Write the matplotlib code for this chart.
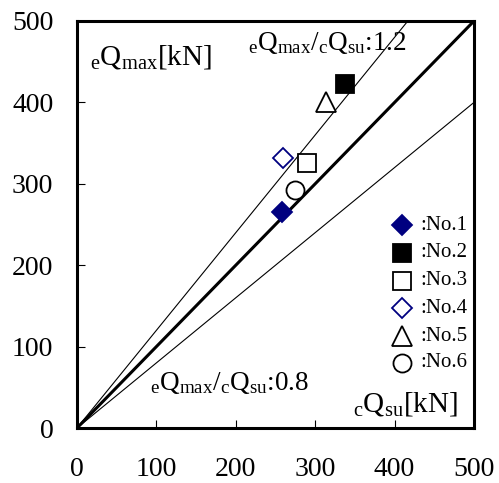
import matplotlib.pyplot as plt
import numpy as np

plt.rcParams['font.family'] = 'Liberation Serif'
plt.rcParams['mathtext.fontset'] = 'custom'
plt.rcParams['mathtext.rm'] = 'Liberation Serif'
plt.rcParams['mathtext.it'] = 'Liberation Serif:italic'

# specimen results (cQsu, eQmax) in kN
names = ['No.1', 'No.2', 'No.3', 'No.4', 'No.5', 'No.6']
cQsu = [258, 338, 290, 260, 314, 275]
eQmax = [265, 423, 325, 332, 400, 292]
markers = ['D', 's', 's', 'D', '^', 'o']
faces = ['#000080', 'black', 'white', 'white', 'white', 'white']
edges = ['#000080', 'black', 'black', '#000080', 'black', 'black']
sizes = [10, 13, 13, 10, 14, 13]

ratios = [1.2, 1.0, 0.8]
ratio_widths = [0.8, 2.2, 0.8]

fig = plt.figure(figsize=(4.99, 4.83), dpi=100)
ax = fig.add_axes([77/499, 55/483, 397/499, 407/483])

xs = np.array([0, 500])
for r, lw in zip(ratios, ratio_widths):
    ax.plot(xs, r * xs, color='black', lw=lw, zorder=1)

for i in range(len(names)):
    ax.plot(cQsu[i], eQmax[i], marker=markers[i], ms=sizes[i], mfc=faces[i],
            mec=edges[i], mew=1.3, ls='none', zorder=3)

# legend drawn by hand like the original
leg_y = [249, 215, 181, 147, 113, 80]
for i in range(len(names)):
    ax.plot(409, leg_y[i], marker=markers[i], ms=sizes[i], mfc=faces[i],
            mec=edges[i], mew=1.3, ls='none', zorder=3)
    ax.text(432, leg_y[i], ':' + names[i], fontsize=15, va='center', ha='left')

ax.text(16, 446, r'$_{\rm e}$Q$_{\rm max}$[kN]', fontsize=21)
ax.text(215, 464, r'$_{\rm e}$Q$_{\rm max}$/$_{\rm c}$Q$_{\rm su}$:1.2', fontsize=19.5)
ax.text(92, 47, r'$_{\rm e}$Q$_{\rm max}$/$_{\rm c}$Q$_{\rm su}$:0.8', fontsize=19.5)
ax.text(348, 20, r'$_{\rm c}$Q$_{\rm su}$[kN]', fontsize=21)

ax.set_xlim(0, 500)
ax.set_ylim(0, 500)
ax.set_xticks([0, 100, 200, 300, 400, 500])
ax.set_yticks([0, 100, 200, 300, 400, 500])
ax.tick_params(direction='in', length=6, width=0.8, labelsize=20)
ax.tick_params(axis='x', pad=21)
ax.tick_params(axis='y', pad=17)
for s in ax.spines.values():
    s.set_linewidth(2.2)

plt.savefig('out.png', dpi=100)
